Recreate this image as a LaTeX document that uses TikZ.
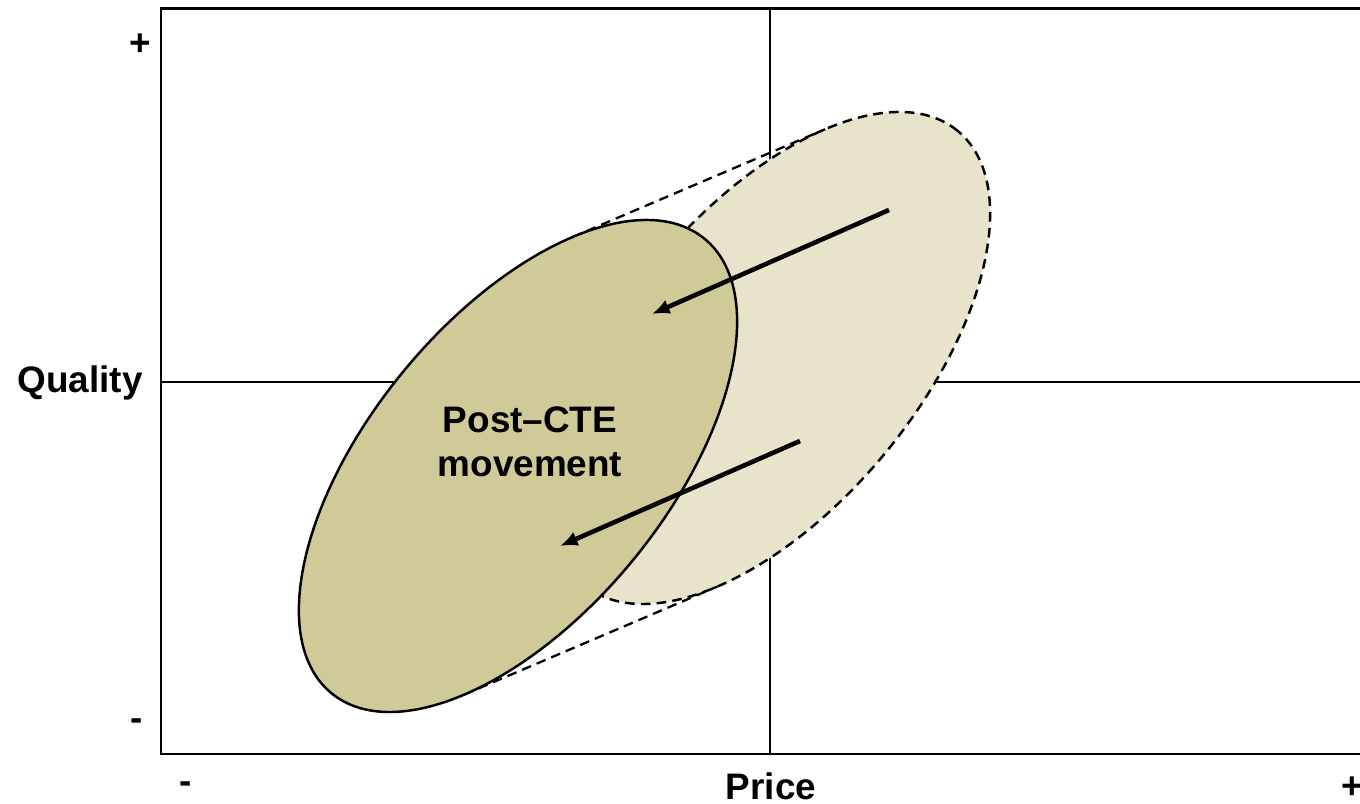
\documentclass[tikz,border=0pt]{standalone}
\usepackage{fontspec}
\setmainfont{Liberation Sans}
\usetikzlibrary{arrows.meta,calc}
\definecolor{khaki}{RGB}{207,202,152}

\begin{document}
\begin{tikzpicture}[x=0.02cm,y=0.02cm,>={Latex[length=10pt,width=8.5pt]}]
        \tikzset{lbl/.style={font=\bfseries\fontsize{21}{25}\selectfont,inner sep=0pt,align=center},
        frame/.style={draw,line width=1.7pt},
        axis/.style={draw,line width=1.2pt},
        oldzone/.style={fill=khaki!50,draw,dash pattern=on 5.5pt off 3.5pt,line width=1.4pt},
        newzone/.style={fill=khaki,draw,line width=1.4pt},
        tangent/.style={draw,dash pattern=on 5.5pt off 3.5pt,line width=1.3pt},
        move/.style={->,line width=2.6pt}
        }
        \useasboundingbox (0,0) rectangle (1360,804);

%% frame and quadrants
        \coordinate (sw) at (161,50);
        \coordinate (ne) at (1363,795);
        \coordinate (midbot) at (770,50);
        \coordinate (midtop) at (770,795);
        \coordinate (midleft) at (161,422);
        \coordinate (midright) at (1363,422);
        \path[axis] (midbot) -- (midtop) (midleft) -- (midright);
        \path[frame] (sw) rectangle (ne);

%% zones
        \coordinate (old) at (771,446);
        \coordinate (new) at (518,338);
        \coordinate (oldtop) at ($(old)+(50.6:211.1)+(140.6:103.4)$);
        \coordinate (oldbot) at ($(old)+(230.6:211.1)+(320.6:103.4)$);
        \coordinate (newtop) at ($(new)+(50.6:211.1)+(140.6:103.4)$);
        \coordinate (newbot) at ($(new)+(230.6:211.1)+(320.6:103.4)$);
        \path[oldzone] (old) ellipse [x radius=294,y radius=148.6,rotate=50.6];
        \path[tangent] (newtop) -- (oldtop) (newbot) -- (oldbot);
        \path[newzone] (new) ellipse [x radius=294,y radius=148.6,rotate=50.6];

%% arrows
        \coordinate (upfrom) at (889,594);
        \coordinate (upto) at (652,490);
        \coordinate (lowfrom) at (800,363);
        \coordinate (lowto) at (560,258);
        \draw[move] (upfrom) -- (upto);
        \draw[move] (lowfrom) -- (lowto);

%% labels
        \node [lbl] (cte) at (530,362) {Post--CTE\\movement};
        \node [lbl] (quality) at (80,421) {Quality};
        \node [lbl] (price) at (771,18) {Price};
        \node [lbl] (xlow) at (186,16) {-};
        \node [lbl] (xhigh) at (1352,16) {+};
        \node [lbl] (yhigh) at (140,759) {+};
        \node [lbl] (ylow) at (137,79) {-};
    \end{tikzpicture}
\end{document}
